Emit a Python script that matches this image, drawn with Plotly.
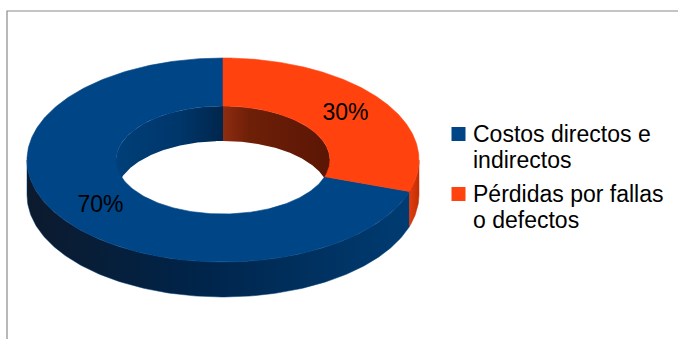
import numpy as np
import plotly.graph_objects as go

# Data
categories = ["Costos directos e indirectos", "Pérdidas por fallas o defectos"]
legend_lines = [["Costos directos e", "indirectos"], ["Pérdidas por fallas", "o defectos"]]
values = [70, 30]

# Styles
top_colors = ["#004586", "#ff420e"]
side_scales = [
    [[0, "#0c1a2d"], [0.45, "#00244a"], [1, "#003c72"]],
    [[0, "#e23c0c"], [1, "#c22e06"]],
]
inner_scales = [
    [[0, "#003f78"], [0.6, "#00366a"], [1, "#00264c"]],
    [[0, "#8e2c10"], [0.25, "#6e1f08"], [1, "#5a1604"]],
]
FONT = "Liberation Sans, Arial, sans-serif"

# Ring geometry (pixel space)
CX, CY = 223, 160
RX, RY = 196, 102
IRX, IRY = 107, 54
DEPTH = 35
START = 90.0  # degrees, slices run counter-clockwise

W, H = 678, 339


def arc(rx, ry, a0, a1, dy=0.0, n=180):
    t = np.radians(np.linspace(a0, a1, n))
    return CX + rx * np.cos(t), CY - ry * np.sin(t) + dy


def band(rx, ry, a0, a1):
    x1, y1 = arc(rx, ry, a0, a1)
    x2, y2 = arc(rx, ry, a1, a0, dy=DEPTH)
    return np.concatenate([x1, x2, x1[:1]]), np.concatenate([y1, y2, y1[:1]])


def clip(a0, a1, lo, hi):
    # intersect [a0, a1] with [lo, hi] allowing 360-degree wraps
    out = []
    for k in (-360, 0, 360):
        s, e = max(a0, lo + k), min(a1, hi + k)
        if e > s:
            out.append((s, e))
    return out


total = sum(values)
spans = []
a = START
for v in values:
    span = 360.0 * v / total
    spans.append((a, a + span))
    a += span

fig = go.Figure()

# Outer side wall (front half of the ring)
for i, (a0, a1) in enumerate(spans):
    for s, e in clip(a0, a1, 180, 360):
        x, y = band(RX, RY, s, e)
        fig.add_trace(go.Scatter(
            x=x, y=y, mode="lines", fill="toself",
            line=dict(width=0.5, color=side_scales[i][-1][1]),
            fillgradient=dict(type="horizontal", colorscale=side_scales[i]),
            hoverinfo="skip", showlegend=False))

# Inner wall (back half of the hole)
for i, (a0, a1) in enumerate(spans):
    for s, e in clip(a0, a1, 0, 180):
        x, y = band(IRX, IRY, s, e)
        fig.add_trace(go.Scatter(
            x=x, y=y, mode="lines", fill="toself",
            line=dict(width=0),
            fillgradient=dict(type="horizontal", colorscale=inner_scales[i]),
            hoverinfo="skip", showlegend=False))

# Top face of each slice
for i, (a0, a1) in enumerate(spans):
    xo, yo = arc(RX, RY, a0, a1, n=300)
    xi, yi = arc(IRX, IRY, a1, a0, n=200)
    x = np.concatenate([xo, xi, xo[:1]])
    y = np.concatenate([yo, yi, yo[:1]])
    fig.add_trace(go.Scatter(
        x=x, y=y, mode="lines", fill="toself",
        fillcolor=top_colors[i], line=dict(width=0.6, color=top_colors[i]),
        name=categories[i], hoverinfo="name", showlegend=False))

# Percentage labels at the middle of each slice
lab_x, lab_y, lab_t = [], [], []
for (a0, a1), v in zip(spans, values):
    m = np.radians((a0 + a1) / 2)
    lab_x.append(CX + (RX + IRX) / 2 * np.cos(m))
    lab_y.append(CY - (RY + IRY) / 2 * np.sin(m))
    lab_t.append(f"{round(100 * v / total)}%")
fig.add_trace(go.Scatter(
    x=lab_x, y=lab_y, mode="text", text=lab_t,
    textfont=dict(family=FONT, size=23, color="#000000"),
    hoverinfo="skip", showlegend=False))

# Legend keys and text
key_y = [134, 194]
fig.add_trace(go.Scatter(
    x=[458.5, 458.5], y=key_y, mode="markers",
    marker=dict(symbol="square", size=14, color=top_colors, line=dict(width=0)),
    hoverinfo="skip", showlegend=False))
for i, lines in enumerate(legend_lines):
    for j, line in enumerate(lines):
        fig.add_annotation(
            x=471, y=key_y[i] + j * 25.5, text=line, showarrow=False,
            xanchor="left", yanchor="middle", xref="x", yref="y",
            font=dict(family=FONT, size=23, color="#000000"))

# Chart frame
fig.add_shape(type="path", path=f"M 7 {H} L 7 11 L {W + 5} 11",
              xref="x", yref="y", line=dict(color="#8a8a8a", width=1.2))

fig.update_xaxes(range=[0, W], visible=False, fixedrange=True)
fig.update_yaxes(range=[H, 0], visible=False, fixedrange=True)
fig.update_layout(
    width=W, height=H, margin=dict(l=0, r=0, t=0, b=0),
    paper_bgcolor="white", plot_bgcolor="white", showlegend=False)

fig.write_html("out.html")
